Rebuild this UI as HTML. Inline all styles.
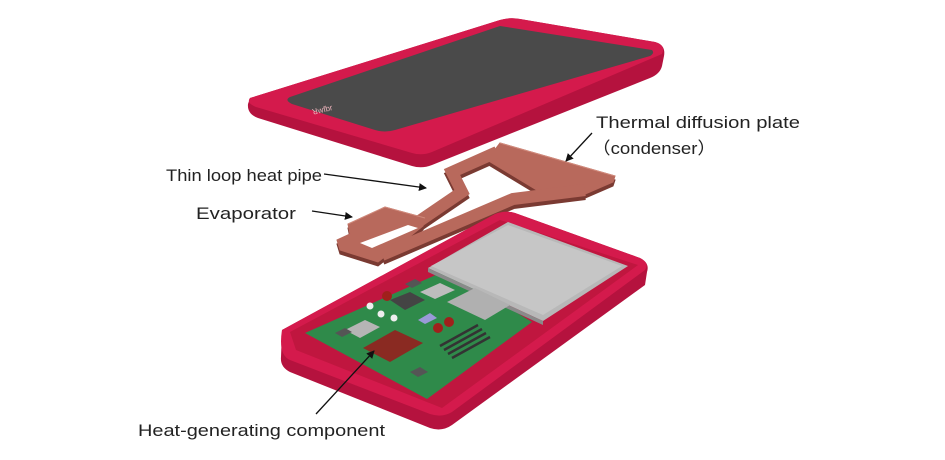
<!DOCTYPE html>
<html><head><meta charset="utf-8"><style>
html,body{margin:0;padding:0;background:#fff;}
svg{display:block;}
text{font-family:"Liberation Sans",sans-serif;font-size:17px;fill:#222;}
</style></head><body>
<svg width="945" height="460" viewBox="0 0 945 460" xmlns="http://www.w3.org/2000/svg">
<defs>
<marker id="ah" markerWidth="8" markerHeight="8" refX="7" refY="4" orient="auto" markerUnits="userSpaceOnUse">
<path d="M0,0 L8,4 L0,8 Z" fill="#111"/></marker>
</defs>
<!-- top cover -->
<path d="M250,98 L500,20 Q510,17 520,19 L655,42 Q666,45 664,56 L662,66 Q660,74 650,78 L432,165 Q422,169 412,166 L258,118 Q247,114 248,104 Z" fill="#b5123e"/>
<path d="M250,98 L500,20 Q510,17 520,19 L655,42 Q666,45 662,54 L432,152 Q422,156 412,153 L256,107 Q246,103 250,98 Z" fill="#d41a4c"/>
<path d="M290,97 L500,26 L652,50 Q655,53 650,56 L395,130 Q385,133 375,130 L292,104 Q284,100 290,97 Z" fill="#4a4a4a"/>
<text x="312" y="113" style="font-size:8px;fill:#e8b0b8" transform="rotate(-14 320 110)">ꓤwfbr</text>
<!-- heat pipe: dark underside -->
<g transform="translate(0,4)" fill="#7a3a32" stroke="#7a3a32">
<path d="M487,160 L500,143 L615,176 L613,182 L583,195 L540,192 Z"/>
<path d="M337,240 L350,234 L348,224 L385,207 L425,218 L423,226 L378,262 L340,250 Z"/>
<path d="M497,152 L452,172 L462,192 L418,222" fill="none" stroke-width="12"/>
<path d="M585,190 L513,199 L382,255" fill="none" stroke-width="12"/>
</g>
<g fill="#b8695c" stroke="#b8695c">
<path d="M487,160 L500,143 L615,176 L613,182 L583,195 L540,192 Z"/>
<path d="M337,240 L350,234 L348,224 L385,207 L425,218 L423,226 L378,262 L340,250 Z"/>
<path d="M497,152 L452,172 L462,192 L418,222" fill="none" stroke-width="12"/>
<path d="M585,190 L513,199 L382,255" fill="none" stroke-width="12"/>
</g>
<path d="M360,243 L372,248 L418,228 L408,225 Z" fill="#fff"/>
<path d="M500,143 L615,176 M348,224 L385,207 L425,218" stroke="#d08a7c" stroke-width="1" fill="none"/>
<!-- bottom case -->
<path d="M282,330 L495,214 Q505,210 515,213 L640,258 Q650,263 647,272 L645,285 L452,425 Q442,432 430,428 L290,372 Q280,367 281,357 Z" fill="#b5123e"/>
<path d="M282,330 L495,214 Q505,210 515,213 L640,258 Q650,263 645,270 L452,412 Q442,418 430,414 L290,360 Q278,355 282,330 Z" fill="#d41a4c"/>
<path d="M290,332 L500,220 L638,265 L442,408 L296,350 Z" fill="#c0163f"/>
<path d="M305,333 L447,270 L532,322 L427,399 Z" fill="#2f8a4a"/>
<!-- battery -->
<path d="M428,268 L508,222 L628,266 L543,321 Z" fill="#b8b8b8"/>
<path d="M431,266 L508,225 L622,266 L543,315 Z" fill="#c6c6c6"/>
<path d="M428,268 L543,321 L543,325 L428,272 Z" fill="#8a8a8a"/>
<!-- components -->
<path d="M363,348 L395,330 L423,343 L390,362 Z" fill="#8a2a22"/>
<path d="M345,330 L365,320 L380,327 L360,338 Z" fill="#b5b5b5"/>
<path d="M420,292 L440,283 L455,290 L435,299 Z" fill="#bdbdbd"/>
<path d="M447,302 L475,288 L510,305 L485,320 Z" fill="#b0b0b0"/>
<path d="M390,300 L410,292 L425,300 L405,310 Z" fill="#444"/>
<path d="M335,333 L345,328 L352,332 L342,337 Z" fill="#555"/>
<path d="M410,372 L420,367 L428,372 L418,377 Z" fill="#555"/>
<path d="M405,284 L415,279 L422,283 L412,288 Z" fill="#555"/>
<path d="M418,320 L430,313 L437,318 L425,324 Z" fill="#9a9ad8"/>
<circle cx="387" cy="296" r="5" fill="#a0201c"/>
<circle cx="438" cy="328" r="5" fill="#a0201c"/>
<circle cx="449" cy="322" r="5" fill="#a0201c"/>
<circle cx="370" cy="306" r="3.5" fill="#eee"/>
<circle cx="381" cy="314" r="3.5" fill="#eee"/>
<circle cx="394" cy="318" r="3.5" fill="#eee"/>
<g stroke="#333" stroke-width="2.5">
<line x1="440" y1="346" x2="478" y2="325"/><line x1="444" y1="350" x2="482" y2="329"/>
<line x1="448" y1="354" x2="486" y2="333"/><line x1="452" y1="358" x2="490" y2="337"/>
</g>
<!-- labels -->
<text x="596" y="128" textLength="204" lengthAdjust="spacingAndGlyphs">Thermal diffusion plate</text>
<text x="592" y="154" textLength="124" lengthAdjust="spacingAndGlyphs">（condenser）</text>
<text x="166" y="181" textLength="156" lengthAdjust="spacingAndGlyphs">Thin loop heat pipe</text>
<text x="196" y="219" textLength="100" lengthAdjust="spacingAndGlyphs">Evaporator</text>
<text x="138" y="436" textLength="247" lengthAdjust="spacingAndGlyphs">Heat-generating component</text>
<g stroke="#111" stroke-width="1.3" fill="none">
<line x1="324" y1="174" x2="426" y2="188" marker-end="url(#ah)"/>
<line x1="312" y1="211" x2="352" y2="217" marker-end="url(#ah)"/>
<line x1="592" y1="133" x2="566" y2="161" marker-end="url(#ah)"/>
<line x1="316" y1="414" x2="374" y2="351" marker-end="url(#ah)"/>
</g>
</svg>
</body></html>
